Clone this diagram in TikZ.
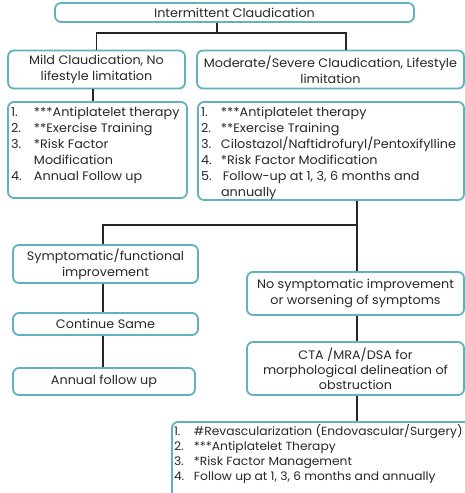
\documentclass[tikz,border=0pt]{standalone}
\usepackage{fontspec}
\setmainfont{Poppins}[FakeStretch=1.04]
\definecolor{bord}{RGB}{95,178,190}
\definecolor{txt}{RGB}{40,40,40}
\newcommand\li[3]{\mbox{\makebox[#1][l]{#2}#3}\par}
\tikzset{
  box/.style={draw=bord, line width=1.8pt, rounded corners=6pt, fill=white, text=txt,
    align=center, inner sep=1pt, font=\fontsize{12.3}{16}\selectfont},
  conn/.style={line width=1.6pt, draw=black!85}
}
\begin{document}
\begin{tikzpicture}[x=1pt,y=-1pt]
\useasboundingbox (0,0) rectangle (465,493);
\node[box, minimum width=359pt, minimum height=19pt] (top) at (234.5,12.5) {Intermittent Claudication};
\node[box, minimum width=177pt, minimum height=38pt] (mild) at (96.5,69.5) {Mild Claudication, No\\lifestyle limitation};
\node[box, minimum width=267pt, minimum height=38pt] (mod) at (330.5,69.5) {Moderate/Severe Claudication, Lifestyle\\limitation};
\node[box, minimum width=179pt, minimum height=96pt] (leftlist) at (97.5,150) {\parbox[c][92pt][t]{173pt}{\raggedright\fontsize{12.3}{16}\selectfont\vspace*{3pt}
\li{23pt}{1.}{***Antiplatelet therapy}
\li{23pt}{2.}{**Exercise Training}
\li{23pt}{3.}{*Risk Factor}
\li{23pt}{}{Modification}
\li{23pt}{4.}{Annual Follow up}}};
\node[box, minimum width=266pt, minimum height=98pt] (rightlist) at (331,151) {\parbox[c][94pt][t]{260pt}{\raggedright\fontsize{12.3}{16}\selectfont\vspace*{3pt}
\li{20pt}{1.}{***Antiplatelet therapy}
\li{20pt}{2.}{**Exercise Training}
\li{20pt}{3.}{Cilostazol/Naftidrofuryl/Pentoxifylline}
\li{20pt}{4.}{*Risk Factor Modification}
\li{20pt}{5.}{\kern2pt Follow-up at 1, 3, 6 months and}
\li{20pt}{}{annually}}};
\node[box, minimum width=185pt, minimum height=38pt] (symp) at (105.5,264) {Symptomatic/functional\\improvement};
\node[box, minimum width=217pt, minimum height=43pt] (nosymp) at (355.5,293.5) {No symptomatic improvement\\or worsening of symptoms};
\node[box, minimum width=185pt, minimum height=22pt] (cont) at (105.5,324) {Continue Same};
\node[box, minimum width=182pt, minimum height=27pt] (annual) at (104,381.5) {Annual follow up};
\node[box, font=\fontsize{12.3}{15}\selectfont, minimum width=217pt, minimum height=53pt] (cta) at (355.5,368.5) {CTA /MRA/DSA for\\morphological delineation of\\obstruction};
\node[box, minimum width=300pt, minimum height=78pt] (bottom) at (322,461) {\parbox[c][74pt][t]{296pt}{\raggedright\fontsize{11.8}{15}\selectfont
\li{20pt}{1.}{\#Revascularization (Endovascular/Surgery)}
\li{20pt}{2.}{***Antiplatelet Therapy}
\li{20pt}{3.}{*Risk Factor Management}
\li{20pt}{4.}{Follow up at 1, 3, 6 months and annually}}};
\coordinate (j1) at (217,33);
\coordinate (jr) at (346,0);
\coordinate (c2) at (93,0);
\coordinate (j2) at (357,225);
\coordinate (jl2) at (103,0);
\draw[conn] (top.south -| j1) -- (j1);
\draw[conn] (mild.north) |- (j1) -| (mod.north -| jr);
\draw[conn] (mild.south -| c2) -- (leftlist.north -| c2);
\draw[conn] (rightlist.south -| j2) -- (j2) -- (nosymp.north -| j2);
\draw[conn] (j2) -| (symp.north -| jl2);
\draw[conn] (symp.south -| jl2) -- (cont.north -| jl2);
\draw[conn] (cont.south -| jl2) -- (annual.north -| jl2);
\draw[conn] (nosymp.south -| j2) -- (cta.north -| j2);
\draw[conn] (cta.south -| j2) -- (bottom.north -| j2);
\end{tikzpicture}
\end{document}
